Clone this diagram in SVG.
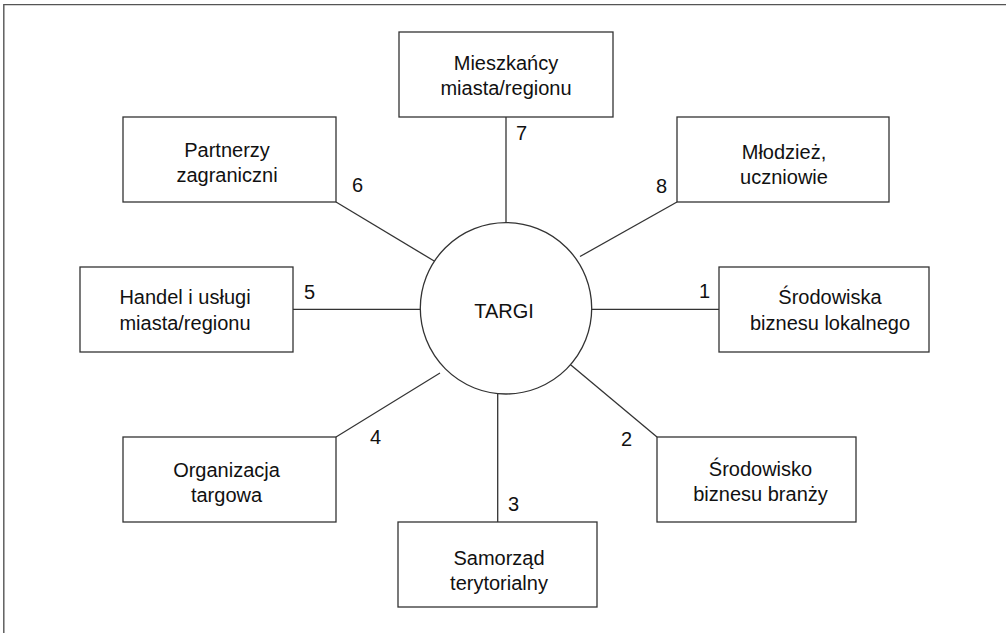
<svg xmlns="http://www.w3.org/2000/svg" width="1006" height="633" viewBox="0 0 1006 633">
<style>
.box{fill:#fff;stroke:#333;stroke-width:1.3}
.ln{stroke:#333;stroke-width:1.3;fill:none}
text{font-family:"Liberation Sans",Arial,sans-serif;font-size:20px;fill:#111}
.c{text-anchor:middle}
</style>
<rect width="1006" height="633" fill="#fff"/>
<path d="M3.8,633 V4.6 H1006" fill="none" stroke="#555" stroke-width="1.4"/>
<g id="connectors">
<line class="ln" x1="506" y1="117" x2="506" y2="222.5"/>
<line class="ln" x1="336" y1="202" x2="435" y2="261.5"/>
<line class="ln" x1="677" y1="202" x2="580" y2="256.5"/>
<line class="ln" x1="293" y1="309.3" x2="420" y2="309.3"/>
<line class="ln" x1="592" y1="309.3" x2="719" y2="309.3"/>
<line class="ln" x1="336" y1="437" x2="440" y2="373"/>
<line class="ln" x1="562.5" y1="358" x2="657" y2="437"/>
<line class="ln" x1="497.7" y1="394" x2="497.7" y2="522"/>
<text x="516" y="140">7</text>
<text x="352" y="192">6</text>
<text x="656" y="193">8</text>
<text x="304" y="299">5</text>
<text x="699" y="298">1</text>
<text x="370" y="444">4</text>
<text x="621" y="446">2</text>
<text x="508" y="511">3</text>
</g>
<g id="targi">
<circle class="box" cx="506" cy="308.3" r="85.7"/>
<text class="c" x="504" y="317.5">TARGI</text>
</g>
<g id="mieszkancy">
<rect class="box" x="399" y="32" width="214" height="85"/>
<text class="c" x="506" y="70">Mieszkańcy</text>
<text class="c" x="506" y="95">miasta/regionu</text>
</g>
<g id="partnerzy">
<rect class="box" x="123" y="117" width="213" height="85"/>
<text class="c" x="227" y="156.5">Partnerzy</text>
<text class="c" x="227" y="181.5">zagraniczni</text>
</g>
<g id="mlodziez">
<rect class="box" x="677" y="117" width="212" height="85"/>
<text class="c" x="784" y="159">Młodzież,</text>
<text class="c" x="784" y="183.5">uczniowie</text>
</g>
<g id="handel">
<rect class="box" x="80" y="267" width="213" height="85"/>
<text class="c" x="185" y="304">Handel i usługi</text>
<text class="c" x="185" y="330">miasta/regionu</text>
</g>
<g id="srodowiska">
<rect class="box" x="719" y="267" width="210" height="85"/>
<text class="c" x="830" y="304">Środowiska</text>
<text class="c" x="830" y="330">biznesu lokalnego</text>
</g>
<g id="organizacja">
<rect class="box" x="123" y="437" width="213" height="85"/>
<text class="c" x="226.5" y="476.5">Organizacja</text>
<text class="c" x="226.5" y="501.5">targowa</text>
</g>
<g id="srodowisko">
<rect class="box" x="657" y="437" width="199" height="85"/>
<text class="c" x="760.5" y="475.5">Środowisko</text>
<text class="c" x="760.5" y="500.5">biznesu branży</text>
</g>
<g id="samorzad">
<rect class="box" x="398" y="522" width="199" height="85"/>
<text class="c" x="499" y="565">Samorząd</text>
<text class="c" x="499" y="590">terytorialny</text>
</g>
</svg>
